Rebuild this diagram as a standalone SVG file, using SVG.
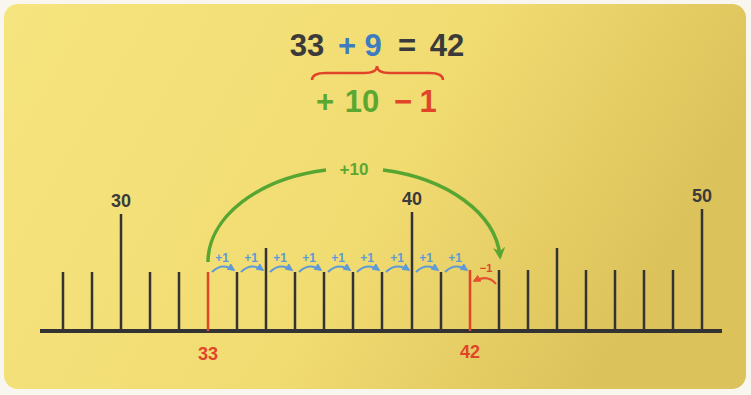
<svg xmlns="http://www.w3.org/2000/svg" width="751" height="395" viewBox="0 0 751 395">
<defs>
<linearGradient id="bg" x1="0" y1="0" x2="1" y2="0.3">
<stop offset="0" stop-color="#f6e47e"/>
<stop offset="0.6" stop-color="#f1dc72"/>
<stop offset="1" stop-color="#dcc25a"/>
</linearGradient>
<marker id="ab" viewBox="0 0 10 10" refX="8" refY="5" markerWidth="4" markerHeight="4" orient="auto"><path d="M0,0 L10,5 L0,10 Z" fill="#5f9ad6"/></marker>
<marker id="ar" viewBox="0 0 10 10" refX="8" refY="5" markerWidth="4" markerHeight="4" orient="auto"><path d="M0,0 L10,5 L0,10 Z" fill="#e4502f"/></marker>
<marker id="ag" viewBox="0 0 10 10" refX="7" refY="5" markerWidth="3.5" markerHeight="3.5" orient="auto"><path d="M0,0 L10,5 L0,10 L3,5 Z" fill="#58a632"/></marker>
</defs>
<style>
text{font-family:"Liberation Sans","DejaVu Sans",sans-serif;font-weight:bold;text-anchor:middle}
.big{font-size:31px}
.lab{font-size:18px;fill:#3b3b3b}
.red{fill:#e0452a}
.grn{fill:#5aa832}
.blu{fill:#3d7cc0}
.dk{fill:#3a3a3a}
.tk{stroke:#333;stroke-width:2.5}
.rt{stroke:#e0452a;stroke-width:2.5}
.p1{font-size:12px;fill:#5f9ad6}
.hop{fill:none;stroke:#5f9ad6;stroke-width:2}
.big-arc{fill:none;stroke:#58a632;stroke-width:3.5}
</style>
<rect x="0" y="0" width="751" height="395" fill="#f8f6ee"/>
<rect x="4" y="4" width="742" height="385" rx="14" fill="url(#bg)"/>

<g id="equation">
<text class="big dk" x="307" y="56">33</text>
<text class="big blu" x="347" y="56">+</text>
<text class="big blu" x="373" y="56">9</text>
<text class="big dk" x="407" y="56">=</text>
<text class="big dk" x="447" y="56">42</text>
</g>
<g id="brace">
<path d="M312,80 Q312,73 326,73 L364,73 Q377,73 377,66 Q377,73 390,73 L429,73 Q443,73 443,80" fill="none" stroke="#e0452a" stroke-width="2.5"/>
</g>
<g id="decomposition">
<text class="big grn" x="325" y="112">+</text>
<text class="big grn" x="362" y="112">10</text>
<text class="big red" x="403" y="112">−</text>
<text class="big red" x="428" y="112">1</text>
</g>

<g id="numberline">
<line x1="40" y1="331" x2="722" y2="331" stroke="#333" stroke-width="4"/>
<line class="tk" x1="63" y1="272" x2="63" y2="331"/>
<line class="tk" x1="92" y1="272" x2="92" y2="331"/>
<line class="tk" x1="121" y1="214" x2="121" y2="331"/>
<line class="tk" x1="150" y1="272" x2="150" y2="331"/>
<line class="tk" x1="179" y1="272" x2="179" y2="331"/>
<line class="rt" x1="208" y1="272" x2="208" y2="331"/>
<line class="tk" x1="237" y1="272" x2="237" y2="331"/>
<line class="tk" x1="266" y1="248" x2="266" y2="331"/>
<line class="tk" x1="295" y1="272" x2="295" y2="331"/>
<line class="tk" x1="324" y1="272" x2="324" y2="331"/>
<line class="tk" x1="353" y1="272" x2="353" y2="331"/>
<line class="tk" x1="382" y1="272" x2="382" y2="331"/>
<line class="tk" x1="412" y1="212" x2="412" y2="331"/>
<line class="tk" x1="441" y1="272" x2="441" y2="331"/>
<line class="rt" x1="470" y1="270" x2="470" y2="331"/>
<line class="tk" x1="499" y1="270" x2="499" y2="331"/>
<line class="tk" x1="528" y1="270" x2="528" y2="331"/>
<line class="tk" x1="557" y1="248" x2="557" y2="331"/>
<line class="tk" x1="586" y1="270" x2="586" y2="331"/>
<line class="tk" x1="615" y1="270" x2="615" y2="331"/>
<line class="tk" x1="644" y1="270" x2="644" y2="331"/>
<line class="tk" x1="673" y1="270" x2="673" y2="331"/>
<line class="tk" x1="702" y1="209" x2="702" y2="331"/>
</g>
<g id="labels">
<text class="lab" x="121" y="207">30</text>
<text class="lab" x="412" y="205">40</text>
<text class="lab" x="702" y="202">50</text>
<text class="lab red" x="208" y="360">33</text>
<text class="lab red" x="470" y="358">42</text>
</g>

<g id="connectors">
<path class="big-arc" d="M208,262 A146,94 0 0 1 326,170"/>
<path class="big-arc" d="M383,170 A146,94 0 0 1 500,256" marker-end="url(#ag)"/>
<text x="354" y="175" font-size="17" class="grn">+10</text>
<g id="hops">
<path class="hop" d="M212,272 Q222,262 234,270" marker-end="url(#ab)"/>
<path class="hop" d="M241,272 Q251,262 263,270" marker-end="url(#ab)"/>
<path class="hop" d="M270,272 Q280,262 292,270" marker-end="url(#ab)"/>
<path class="hop" d="M299,272 Q309,262 321,270" marker-end="url(#ab)"/>
<path class="hop" d="M328,272 Q338,262 350,270" marker-end="url(#ab)"/>
<path class="hop" d="M357,272 Q367,262 379,270" marker-end="url(#ab)"/>
<path class="hop" d="M386,272 Q396,262 409,270" marker-end="url(#ab)"/>
<path class="hop" d="M416,272 Q426,262 438,270" marker-end="url(#ab)"/>
<path class="hop" d="M445,272 Q455,262 467,270" marker-end="url(#ab)"/>
<text class="p1" x="222" y="262">+1</text>
<text class="p1" x="251" y="262">+1</text>
<text class="p1" x="280" y="262">+1</text>
<text class="p1" x="309" y="262">+1</text>
<text class="p1" x="338" y="262">+1</text>
<text class="p1" x="367" y="262">+1</text>
<text class="p1" x="397" y="262">+1</text>
<text class="p1" x="426" y="262">+1</text>
<text class="p1" x="455" y="262">+1</text>
</g>
<path d="M496,284 Q488,274 474,281" fill="none" stroke="#e4502f" stroke-width="2" marker-end="url(#ar)"/>
<text x="486" y="272" font-size="11" class="red">−1</text>
</g>
</svg>
